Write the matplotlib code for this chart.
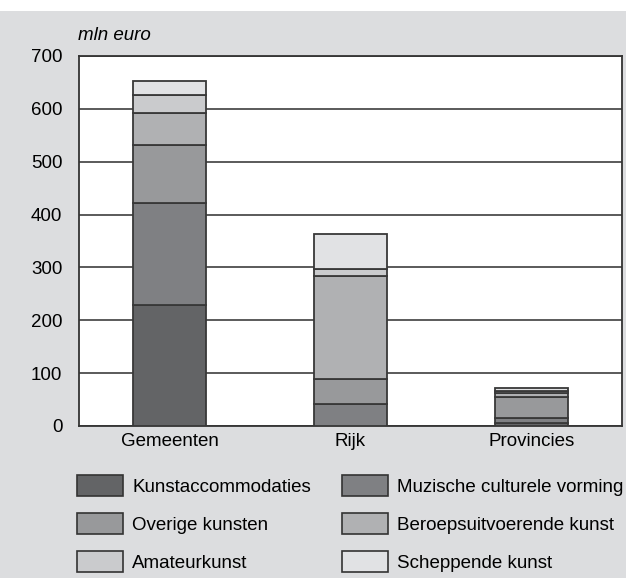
import matplotlib
matplotlib.use("Agg")
import matplotlib.pyplot as plt
from matplotlib.patches import Rectangle
import numpy as np

plt.rcParams['font.family'] = ['Liberation Sans', 'DejaVu Sans']

# data (mln euro)
categories = ["Gemeenten", "Rijk", "Provincies"]
series = ["Kunstaccommodaties", "Muzische culturele vorming", "Overige kunsten",
          "Beroepsuitvoerende kunst", "Amateurkunst", "Scheppende kunst"]
kunstaccommodaties = [229, 0, 5]
muzische = [193, 41, 10]
overige = [110, 47, 39]
beroeps = [61, 196, 8]
amateur = [34, 13, 4]
scheppende = [26, 66, 6]
yticks = [0, 100, 200, 300, 400, 500, 600, 700]

values = [kunstaccommodaties, muzische, overige, beroeps, amateur, scheppende]
colors = ["#636466", "#7f8083", "#98999b", "#b0b1b3", "#cacbcd", "#e1e2e4"]
bg = "#dcdddf"

fig = plt.figure(figsize=(6.26, 5.78), dpi=100)
fig.patches.append(Rectangle((0, 0), 1, 1 - 11 / 578, transform=fig.transFigure,
                             facecolor=bg, edgecolor="none", zorder=-10))

W, H = 626, 578
ax = fig.add_axes([79 / W, 1 - 426 / H, (622 - 79) / W, (426 - 56) / H])
ax.set_facecolor("white")

x = np.arange(len(categories))
bottom = np.zeros(len(categories))
for vals, col in zip(values, colors):
    ax.bar(x, vals, 0.40, bottom=bottom, color=col, edgecolor="#383838",
           linewidth=1.3, zorder=3)
    bottom += np.array(vals)

ax.set_xlim(-0.5, 2.5)
ax.set_ylim(0, 700)
ax.set_yticks(yticks)
ax.set_xticks(x)
ax.set_xticklabels(categories, fontsize=13.5)
ax.tick_params(axis="y", length=0, pad=12, labelsize=13.5)
ax.tick_params(axis="x", length=0, pad=5)
ax.grid(axis="y", color="#2e2e2e", linewidth=1.1, zorder=1)
ax.set_axisbelow(True)
for s in ax.spines.values():
    s.set_color("#333333")
    s.set_linewidth(1.3)

fig.text(78 / W, 1 - 35 / H, "mln euro", fontsize=13.5, style="italic",
         ha="left", va="center")

# legend drawn by hand, two columns
col_x = [77, 342]
row_y = [485, 523, 561]
for i, (name, col) in enumerate(zip(series, colors)):
    cx = col_x[i % 2]
    cy = row_y[i // 2]
    fig.patches.append(Rectangle((cx / W, 1 - (cy + 10.5) / H), 46 / W, 21 / H,
                                 transform=fig.transFigure, facecolor=col,
                                 edgecolor="#333333", linewidth=1.2))
    fig.text((cx + 55) / W, 1 - (cy + 2) / H, name, fontsize=13.5,
             ha="left", va="center")

fig.savefig("out.png", dpi=100)
